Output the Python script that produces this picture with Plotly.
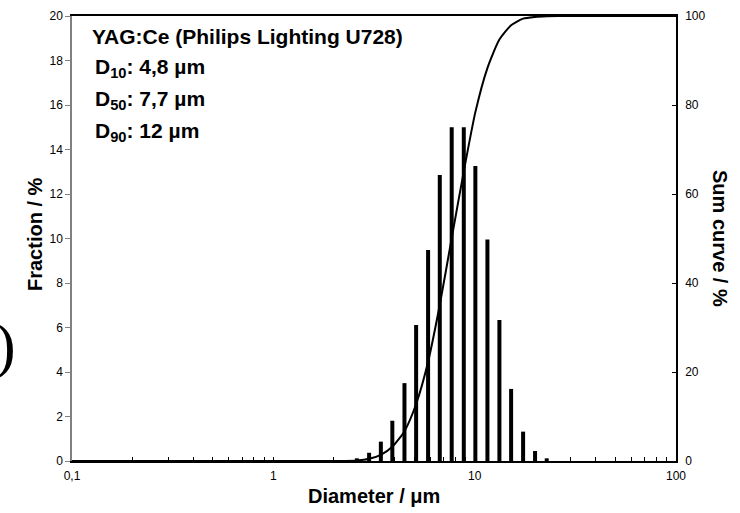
import plotly.graph_objects as go

# ---- data ----
bar_diameter = [2.60, 2.99, 3.42, 3.90, 4.48, 5.12, 5.87, 6.71, 7.69, 8.83,
                10.08, 11.57, 13.27, 15.17, 17.40, 19.95, 22.8]
bar_fraction = [0.12, 0.37, 0.87, 1.81, 3.50, 6.11, 9.48, 12.85, 15.0, 15.0,
                13.26, 9.96, 6.34, 3.24, 1.32, 0.45, 0.12]

sum_diameter = [0.1, 2.27, 2.60, 2.99, 3.42, 3.90, 4.48, 5.12, 5.87, 6.71, 7.69,
                8.83, 10.08, 11.57, 13.27, 15.17, 17.40, 19.95, 22.8, 26.0, 100.0]
sum_curve = [0.0, 0.0, 0.1, 0.5, 1.4, 3.2, 6.7, 12.8, 22.3, 35.1, 50.1,
             65.1, 78.4, 88.3, 94.7, 97.9, 99.4, 99.8, 99.95, 100.0, 100.0]

x_tickvals = [0.1, 1, 10, 100]
x_ticktext = ["0,1", "1", "10", "100"]
x_minor = [0.2, 0.3, 0.4, 0.5, 0.6, 0.7, 0.8, 0.9,
           2, 3, 4, 5, 6, 7, 8, 9,
           20, 30, 40, 50, 60, 70, 80, 90]

info_lines = ["YAG:Ce (Philips Lighting U728)",
              "D<sub>10</sub>: 4,8 µm",
              "D<sub>50</sub>: 7,7 µm",
              "D<sub>90</sub>: 12 µm"]

FONT = "'Liberation Sans', Arial, sans-serif"
W, H = 740, 513
L, R, T, B = 72, 64, 16, 52
PW, PH = W - L - R, H - T - B


def px(x):
    return (x - L) / PW


def py(y):
    return (H - B - y) / PH


# bars as vertical line segments (log axis)
bx, by = [], []
for d, f in zip(bar_diameter, bar_fraction):
    bx += [d, d, None]
    by += [0, f, None]

fig = go.Figure()
fig.add_trace(go.Scatter(x=bx, y=by, mode="lines",
                         line=dict(color="black", width=4),
                         showlegend=False, hoverinfo="skip"))
fig.add_trace(go.Scatter(x=sum_diameter, y=sum_curve, mode="lines", yaxis="y2",
                         line=dict(color="black", width=2, shape="spline", smoothing=0.6),
                         showlegend=False))

fig.update_layout(
    width=W, height=H,
    margin=dict(l=L, r=R, t=T, b=B, autoexpand=False),
    paper_bgcolor="white", plot_bgcolor="white",
    font=dict(family=FONT, size=12, color="black"),
    xaxis=dict(type="log", range=[-1, 2], tickmode="array",
               tickvals=x_tickvals, ticktext=x_ticktext,
               ticks="inside", ticklen=4, tickcolor="black", tickwidth=1,
               showline=True, linecolor="black", linewidth=1.5, mirror=True,
               showgrid=False, zeroline=False, ticklabelstandoff=3,
               automargin=False,
               minor=dict(tickmode="array", tickvals=x_minor, ticks="inside",
                          ticklen=4, tickcolor="black", showgrid=False),
               tickfont=dict(size=12, color="black")),
    yaxis=dict(range=[0, 20], tick0=0, dtick=2, ticks="outside", ticklen=5,
               tickcolor="#808080", showline=True, linecolor="#808080", linewidth=1.5,
               showgrid=False, zeroline=False, automargin=False,
               tickfont=dict(size=12, color="black")),
    yaxis2=dict(range=[0, 100], tick0=0, dtick=20, overlaying="y", side="right",
                ticks="inside", ticklen=4, tickcolor="black",
                showline=True, linecolor="black", linewidth=1.5,
                showgrid=False, zeroline=False, ticklabelstandoff=5, automargin=False,
                tickfont=dict(size=12, color="black")),
)

ann = []
# info text block
ys = [37, 68, 100, 132]
xs = [90, 93, 93, 93]
for t, xx, yy in zip(info_lines, xs, ys):
    ann.append(dict(text="<b>" + t + "</b>", x=px(xx), y=py(yy), xref="paper", yref="paper",
                    xanchor="left", yanchor="middle", showarrow=False,
                    font=dict(family=FONT, size=21, color="black")))
# axis titles
ann.append(dict(text="<b>Diameter / μm</b>", x=px(374), y=py(496), xref="paper", yref="paper",
                xanchor="center", yanchor="middle", showarrow=False,
                font=dict(family=FONT, size=20, color="black")))
ann.append(dict(text="<b>Fraction / %</b>", x=px(35), y=py(234), xref="paper", yref="paper",
                xanchor="center", yanchor="middle", showarrow=False, textangle=-90,
                font=dict(family=FONT, size=20, color="black")))
ann.append(dict(text="<b>Sum curve / %</b>", x=px(720), y=py(238), xref="paper", yref="paper",
                xanchor="center", yanchor="middle", showarrow=False, textangle=90,
                font=dict(family=FONT, size=20, color="black")))
# stray parenthesis at the left edge
ann.append(dict(text=")", x=px(5), y=py(345), xref="paper", yref="paper",
                xanchor="center", yanchor="middle", showarrow=False,
                font=dict(family="'Liberation Serif', serif", size=62, color="black")))
fig.update_layout(annotations=ann)

fig.write_html("out.html", config={"displayModeBar": False},
               post_script="document.body.style.margin='0px';")
